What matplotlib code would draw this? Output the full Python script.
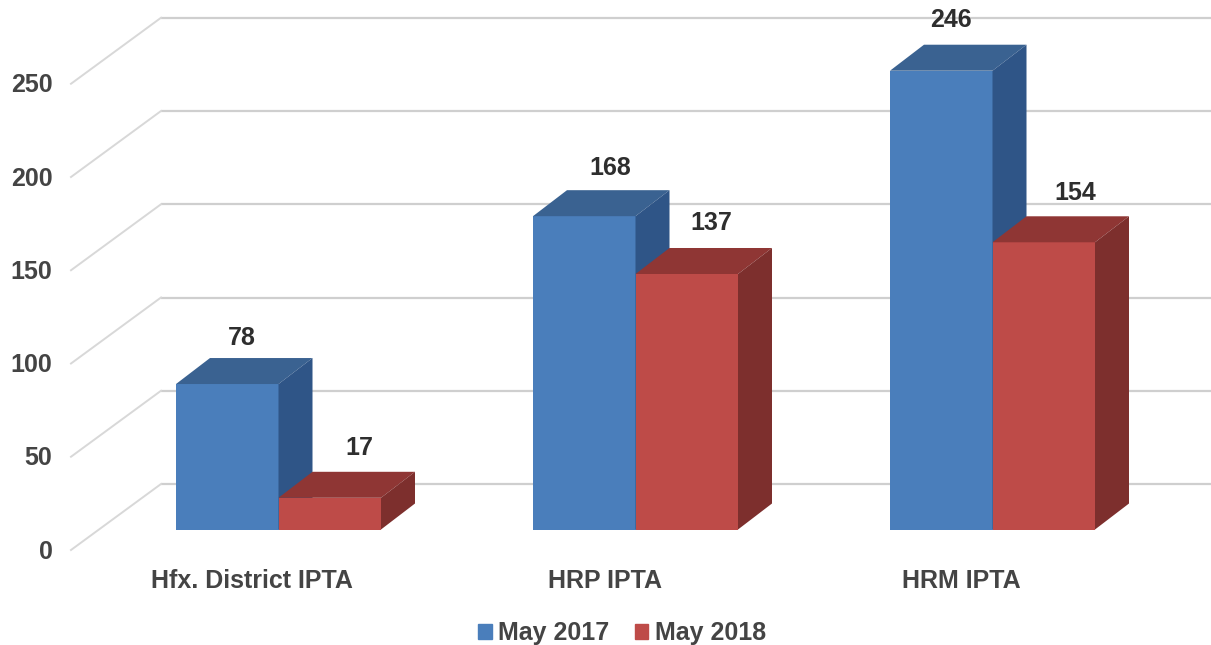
import numpy as np
import matplotlib
matplotlib.use("Agg")
import matplotlib.pyplot as plt
import matplotlib.patches as mpatches

categories = ["Hfx. District IPTA", "HRP IPTA", "HRM IPTA"]
series_names = ["May 2017", "May 2018"]
may2017 = [78, 168, 246]
may2018 = [17, 137, 154]
ticks = [0, 50, 100, 150, 200, 250]

COLOUR_TEXT = "#444444"
COLOUR_VALUE = "#2E2E2E"
COLOUR_GRID = "#CFCFCF"
COLOUR_WALL = "#D8D8D8"
BLUE = ("#4A7EBB", "#3A6291", "#2F5587")
RED = ("#BE4B48", "#8F3634", "#7D2F2D")

# pixel layout of the fake 3D box
PX_PER_UNIT_X = 357.0
PX_PER_VALUE = 1.865
ZERO_X = 278.5
ZERO_Y = 529.5
WIDTH = 102.5 / PX_PER_UNIT_X
DEPTH_X = 34 / PX_PER_UNIT_X
DEPTH_Y = 26 / PX_PER_VALUE
BACK_Y = 45.5 / PX_PER_VALUE
WALL_DX = 90 / PX_PER_UNIT_X
WALL_DY = 66 / PX_PER_VALUE
BACK_LEFT = (161 - ZERO_X) / PX_PER_UNIT_X

# label nudges in pixels, they are not centred on the bars in the original
LABEL_NUDGE = [[(15, 46), (30, 50)], [(26, 48), (25, 51)], [(10, 51), (32, 49)]]
CATEGORY_NUDGE = [-27, -30, -31]
FONT = "Liberation Sans"
FS = 18


def drawBars(ax, xs, values, colours):
    ax.bar(xs, values, width=WIDTH, color=colours[0], linewidth=0, zorder=3)
    for x, v in zip(xs, values):
        left = x - WIDTH / 2
        right = x + WIDTH / 2
        ax.fill([left, left + DEPTH_X, right + DEPTH_X, right],
                [v, v + DEPTH_Y, v + DEPTH_Y, v],
                color=colours[1], linewidth=0, zorder=3)
        ax.fill([right, right + DEPTH_X, right + DEPTH_X, right],
                [v, v + DEPTH_Y, DEPTH_Y, 0],
                color=colours[2], linewidth=0, zorder=3)


fig = plt.figure(figsize=(12.11, 6.45), dpi=100)
ax = fig.add_axes([0, 0, 1, 1])
ax.set_xlim(-ZERO_X / PX_PER_UNIT_X, (1211 - ZERO_X) / PX_PER_UNIT_X)
ax.set_ylim((ZERO_Y - 645) / PX_PER_VALUE, ZERO_Y / PX_PER_VALUE)
ax.axis("off")

# back wall gridlines with their slanted side wall part
xRight = ax.get_xlim()[1]
for t in ticks:
    ax.plot([BACK_LEFT, xRight], [t + BACK_Y, t + BACK_Y],
            color=COLOUR_GRID, linewidth=1.6, zorder=1, solid_capstyle="butt")
    ax.plot([BACK_LEFT - WALL_DX, BACK_LEFT], [t + BACK_Y - WALL_DY, t + BACK_Y],
            color=COLOUR_WALL, linewidth=1.4, zorder=1)
    ax.text(-226 / PX_PER_UNIT_X, t + BACK_Y - WALL_DY - 0.9, str(t), ha="right", va="center",
            family=FONT, fontsize=FS, fontweight="bold", color=COLOUR_TEXT)

idx = np.arange(len(categories))
drawBars(ax, idx - WIDTH / 2, may2017, BLUE)
drawBars(ax, idx + WIDTH / 2, may2018, RED)

for i, name in enumerate(categories):
    ax.annotate(name, (idx[i], 0), xytext=(CATEGORY_NUDGE[i], -51), textcoords="offset pixels",
                ha="center", va="center", family=FONT, fontsize=FS,
                fontweight="bold", color=COLOUR_TEXT)
    for j, vals in enumerate([may2017, may2018]):
        x = idx[i] + (j - 0.5) * WIDTH
        ax.annotate(str(vals[i]), (x, vals[i]), xytext=LABEL_NUDGE[i][j],
                    textcoords="offset pixels", ha="center", va="center",
                    family=FONT, fontsize=FS, fontweight="bold",
                    color=COLOUR_VALUE, zorder=5)

legend = [
    mpatches.Patch(color=BLUE[0], label=series_names[0]),
    mpatches.Patch(color=RED[0], label=series_names[1]),
]
leg = ax.legend(handles=legend, loc="center", ncol=2, frameon=False,
                bbox_to_anchor=(622 / 1211, 1 - 633 / 645),
                prop={"family": FONT, "size": FS, "weight": "bold"},
                labelcolor=COLOUR_TEXT, handlelength=0.55, handleheight=0.55,
                handletextpad=0.25, columnspacing=1.0, borderpad=0, borderaxespad=0)

fig.savefig("out.png", dpi=100, facecolor="white")
